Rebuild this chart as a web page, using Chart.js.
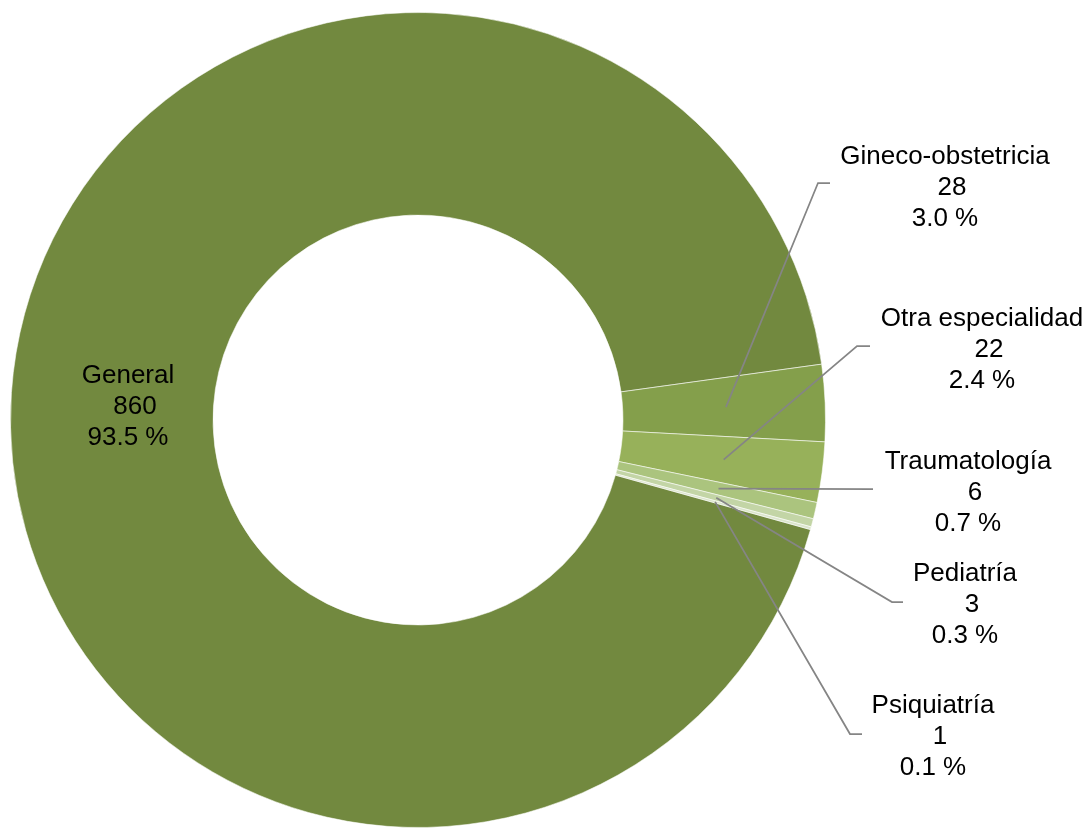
<!DOCTYPE html>
<html>
<head>
<meta charset="utf-8">
<style>
  html, body { margin: 0; padding: 0; background: #ffffff; }
  #wrap { width: 1090px; height: 828px; }
</style>
<script src="https://cdn.jsdelivr.net/npm/chart.js@4/dist/chart.umd.min.js"></script>
</head>
<body>
<div id="wrap"><canvas id="c" width="1090" height="828"></canvas></div>
<script>
const categories = ["General", "Gineco-obstetricia", "Otra especialidad", "Traumatología", "Pediatría", "Psiquiatría"];
const values = [860, 28, 22, 6, 3, 1];
const colors = ["#72893F", "#849F4B", "#97B15A", "#ABC47E", "#C3D5A6", "#DBE5CC"];

// Label layout (center x, cap-center y of first line) and leader-line paths
const labelPos = [
  { x: 128, y: 374, line: null },
  { x: 945, y: 155, line: [[818, 183], [830, 183]] },
  { x: 982, y: 317, line: [[857, 346], [870, 346]] },
  { x: 968, y: 460, line: [[873, 489]] },
  { x: 965, y: 572, line: [[892, 602], [903, 602]] },
  { x: 933, y: 704, line: [[850, 734], [862, 734]] }
];

const total = values.reduce((a, b) => a + b, 0);

const labelPlugin = {
  id: 'labelPlugin',
  afterDatasetsDraw(chart) {
    const ctx = chart.ctx;
    const meta = chart.getDatasetMeta(0);
    ctx.save();
    // leader lines
    meta.data.forEach((arc, i) => {
      const lp = labelPos[i];
      if (!lp.line) return;
      const p = arc.getProps(['x', 'y', 'startAngle', 'endAngle', 'innerRadius', 'outerRadius'], true);
      const mid = (p.startAngle + p.endAngle) / 2;
      const r = p.innerRadius + (p.outerRadius - p.innerRadius) * 0.5 + 2;
      const sx = p.x + Math.cos(mid) * r;
      const sy = p.y + Math.sin(mid) * r;
      ctx.beginPath();
      ctx.strokeStyle = '#858585';
      ctx.lineWidth = 1.75;
      ctx.moveTo(sx, sy);
      lp.line.forEach(pt => ctx.lineTo(pt[0], pt[1]));
      ctx.stroke();
    });
    // labels
    ctx.fillStyle = '#000000';
    ctx.font = '26px "Liberation Sans", Arial, sans-serif';
    ctx.textAlign = 'center';
    ctx.textBaseline = 'alphabetic';
    const lh = 31;
    const capOff = 9.3;
    categories.forEach((cat, i) => {
      const lp = labelPos[i];
      const pct = (values[i] / total * 100).toFixed(1) + ' %';
      ctx.fillText(cat, lp.x, lp.y + capOff);
      ctx.fillText(String(values[i]), lp.x + 7, lp.y + lh + capOff);
      ctx.fillText(pct, lp.x, lp.y + 2 * lh + capOff);
    });
    ctx.restore();
  }
};

new Chart(document.getElementById('c'), {
  type: 'doughnut',
  data: {
    labels: categories,
    datasets: [{
      data: values,
      backgroundColor: colors,
      borderColor: 'rgba(255,255,255,0.55)',
      borderWidth: 1
    }]
  },
  options: {
    responsive: false,
    animation: false,
    rotation: 105.6,
    cutout: '50.3%',
    layout: { padding: { left: 10, top: 12, right: 264, bottom: 0 } },
    plugins: {
      legend: { display: false },
      tooltip: { enabled: false }
    }
  },
  plugins: [labelPlugin]
});
</script>
</body>
</html>
